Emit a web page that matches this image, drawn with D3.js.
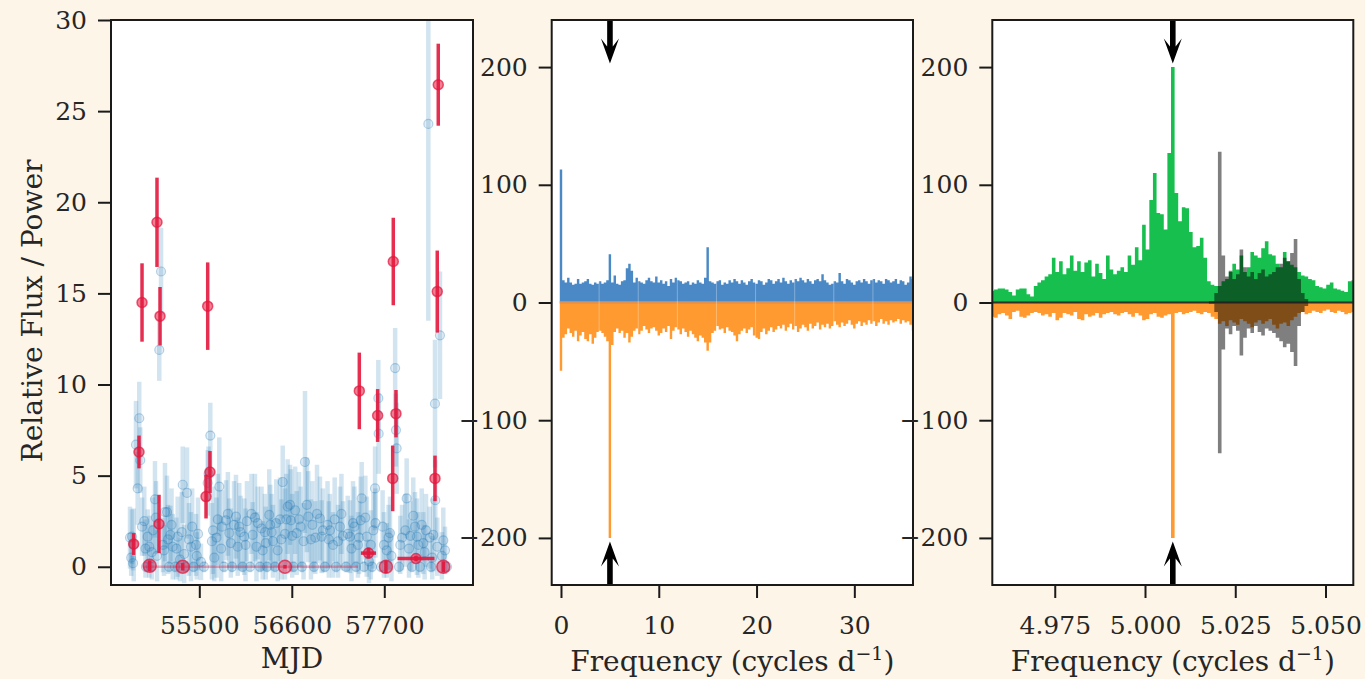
<!DOCTYPE html>
<html>
<head>
<meta charset="utf-8">
<script src="https://cdn.jsdelivr.net/npm/d3@7"></script>
<style>
  body { margin: 0; background: #fdf5e7; }
  svg { display: block; font-family: "DejaVu Serif", serif; }
</style>
</head>
<body>
<div id="chart"></div>
<script>
// ---- light curve (left panel) : [MJD, flux, err]
const bluePoints = [
  [54676, 1.6, 1.7], [54690, 0.5, 1.0], [54700, 1.65, 1.5], [54712, 0.2, 0.4], [54720, 1.2, 2.0],
  [54747, 6.7, 2.4], [54767, 4.3, 2.0], [54786, 8.15, 2.0], [54798, 5.85, 1.8],
  [54819, 2.2, 1.6], [54846, 2.5, 1.9], [54860, 1.0, 1.6], [54866, 0.0, 0.3], [54886, 1.65, 1.5],
  [54905, 1.1, 1.7], [54926, 0.0, 0.3], [54935, 0.8, 1.5], [54949, 2.0, 1.8], [54973, 3.7, 2.1],
  [54985, 2.7, 2.0], [54997, 0.6, 1.4], [55024, 11.9, 1.7], [55045, 16.2, 2.4], [55068, 1.2, 1.5],
  [55080, 0.9, 1.4], [55092, 3.0, 2.7], [55116, 3.0, 2.0], [55128, 1.5, 1.9], [55140, 0.0, 0.3],
  [55155, 1.75, 1.6], [55170, 2.3, 2.0], [55184, 1.1, 1.8], [55211, 0.0, 0.3], [55228, 1.0, 1.7],
  [55243, 1.65, 2.2], [55270, 0.4, 1.2], [55292, 1.9, 2.2], [55303, 4.5, 2.1], [55320, 0.7, 1.6],
  [55338, 0.0, 0.3], [55354, 4.05, 2.5], [55377, 1.5, 2.0], [55401, 1.1, 1.9], [55415, 2.2, 2.1],
  [55431, 0.0, 0.3], [55461, 1.2, 1.7], [55470, 0.6, 1.3], [55485, 1.8, 2.0],
  [55520, 0.27, 1.0], [55556, 0.0, 0.3], [55600, 4.6, 1.8], [55610, 5.1, 1.5],
  [55631, 7.2, 1.8], [55650, 1.4, 2.1], [55663, 2.0, 2.4], [55678, 0.5, 1.3], [55705, 1.6, 2.2],
  [55720, 2.6, 2.5], [55738, 4.4, 2.7], [55760, 1.0, 1.8], [55770, 2.2, 2.0], [55794, 0.0, 0.3],
  [55818, 2.55, 2.2], [55840, 2.9, 2.3], [55857, 1.85, 1.9], [55875, 1.3, 1.9], [55889, 0.0, 0.3],
  [55913, 2.3, 2.4], [55936, 2.75, 2.3], [55957, 1.1, 1.6], [55975, 2.2, 2.4], [55990, 1.9, 2.0],
  [56014, 0.0, 0.3], [56035, 1.65, 2.1], [56050, 1.2, 2.0], [56067, 2.5, 2.2], [56103, 0.0, 0.3],
  [56120, 2.9, 2.2], [56135, 1.75, 1.8], [56162, 2.7, 2.4], [56180, 1.1, 1.9], [56195, 2.4, 2.0],
  [56222, 0.0, 0.3], [56240, 2.1, 2.3], [56254, 0.9, 1.6], [56281, 1.9, 2.1], [56290, 1.3, 2.0],
  [56305, 0.0, 0.3], [56332, 2.85, 2.5], [56344, 2.3, 2.2], [56360, 1.9, 2.1], [56376, 1.4, 2.0],
  [56400, 0.0, 0.3], [56415, 2.4, 2.4], [56432, 0.9, 1.7], [56460, 2.6, 2.3], [56475, 1.5, 2.2],
  [56492, 4.65, 2.0], [56519, 1.8, 2.5], [56535, 2.6, 2.5], [56551, 3.3, 2.6], [56579, 3.4, 2.2],
  [56590, 2.55, 2.8], [56605, 1.7, 2.3], [56620, 0.0, 0.3], [56640, 3.1, 2.4], [56658, 1.85, 2.3],
  [56686, 2.6, 2.6], [56705, 2.2, 2.2], [56721, 0.0, 0.3], [56740, 1.4, 2.1], [56757, 5.75, 3.9],
  [56780, 3.4, 2.6], [56796, 2.75, 2.5], [56828, 1.5, 2.2], [56845, 2.3, 2.4], [56864, 0.0, 0.3],
  [56880, 1.6, 2.0], [56900, 2.9, 2.7], [56935, 2.65, 2.3], [56955, 1.65, 2.0], [56970, 2.0, 2.3],
  [56995, 0.0, 0.3], [57025, 2.3, 2.4], [57040, 1.5, 2.1], [57054, 2.0, 2.0], [57090, 1.2, 1.8],
  [57110, 2.6, 2.3], [57126, 0.0, 0.3], [57150, 1.4, 2.0], [57173, 2.2, 2.2], [57190, 2.9, 2.2],
  [57209, 1.7, 1.9], [57245, 0.0, 0.3], [57265, 1.8, 2.1], [57292, 1.65, 2.0], [57310, 1.0, 1.8],
  [57328, 2.4, 2.3], [57345, 2.2, 2.2], [57364, 0.0, 0.3], [57387, 1.2, 1.8], [57400, 1.6, 2.0],
  [57419, 2.55, 2.4], [57431, 3.75, 2.0], [57459, 0.0, 0.3], [57475, 2.7, 2.3], [57491, 1.65, 2.2],
  [57518, 0.3, 1.2], [57540, 1.2, 1.9], [57554, 0.0, 0.3], [57570, 2.0, 2.1], [57590, 4.3, 2.3],
  [57595, 2.4, 1.9], [57629, 9.25, 2.1], [57633, 7.3, 2.2], [57661, 0.0, 0.3], [57680, 2.2, 2.0],
  [57696, 1.2, 1.8], [57729, 0.9, 1.5], [57750, 1.6, 1.8], [57768, 1.85, 2.0], [57785, 0.6, 1.4],
  [57829, 10.9, 2.2], [57839, 7.5, 2.0], [57847, 6.5, 2.5], [57875, 0.0, 0.3], [57890, 1.2, 1.6],
  [57911, 1.6, 1.8], [57950, 2.0, 2.0], [57966, 3.75, 2.2], [57994, 1.0, 1.6], [58010, 1.7, 1.9],
  [58029, 0.0, 0.3], [58045, 2.8, 2.1], [58065, 2.2, 1.9], [58088, 1.65, 2.1], [58105, 1.2, 1.8],
  [58125, 0.0, 0.3], [58145, 2.3, 2.0], [58164, 1.3, 1.7], [58180, 0.8, 1.5], [58196, 2.0, 2.0],
  [58224, 24.3, 10.8], [58240, 1.6, 1.7], [58256, 0.0, 0.3], [58270, 0.5, 1.2], [58283, 1.75, 2.0],
  [58303, 8.95, 3.5], [58306, 3.65, 2.2], [58330, 1.1, 1.6], [58362, 12.7, 3.5], [58385, 0.6, 1.3],
  [58402, 1.45, 1.8], [58422, 0.9, 1.3], [58446, 0.0, 0.3]
];
// [MJD, flux, yerr, xerr]
const redPoints = [
  [54720, 1.25, 0.6, 0], [54783, 6.3, 0.9, 0], [54819, 14.5, 2.15, 0],
  [54910, 0.05, 0.3, 0], [54997, 18.9, 2.45, 0], [55021, 2.35, 1.6, 0],
  [55033, 13.75, 1.6, 0], [55303, 0.0, 0.2, 0], [55580, 3.85, 1.2, 0],
  [55600, 14.3, 2.4, 0], [55627, 5.2, 1.15, 0], [56519, 0.0, 0.1, 0],
  [57403, 9.65, 2.1, 0], [57512, 0.75, 0.3, 90], [57621, 8.3, 1.45, 0],
  [57720, 0.0, 0.35, 0], [57800, 4.85, 1.8, 0], [57807, 16.75, 2.4, 0],
  [57839, 8.4, 1.3, 0], [58077, 0.45, 0.15, 220], [58303, 4.85, 1.25, 0],
  [58330, 15.1, 2.25, 0], [58342, 26.45, 2.25, 0], [58402, 0.0, 0.3, 0]
];
const redBand = [54830, 57388]; // faint horizontal bar at zero
const lcYTicks = [0, 5, 10, 15, 20, 25, 30];
const lcXTicks = [55500, 56600, 57700];

// ---- wide periodogram (middle panel), 0..36 c/d in 0.25 steps
const wideStep = 0.25;
const wideTop = [113, 19, 17, 21, 17, 15, 16, 20, 16, 17, 18, 20, 16, 15, 17, 16, 18, 16, 17, 19,
  41, 17, 23, 16, 15, 18, 19, 29, 33, 27, 17, 21, 18, 17, 16, 19, 21, 18, 17, 22,
  17, 19, 16, 18, 14, 20, 17, 21, 19, 18, 16, 17, 18, 15, 17, 16, 19, 17, 16, 21,
  47, 18, 17, 16, 18, 19, 15, 17, 16, 19, 17, 20, 18, 16, 19, 17, 15, 18, 20, 17,
  16, 19, 18, 15, 17, 20, 19, 16, 18, 20, 17, 21, 18, 16, 19, 17, 20, 18, 21, 19,
  17, 20, 18, 16, 19, 20, 18, 24, 19, 17, 15, 16, 18, 17, 25, 18, 16, 20, 19, 17,
  15, 18, 19, 17, 20, 18, 16, 19, 20, 17, 19, 18, 16, 20, 19, 17, 18, 20, 16, 19,
  18, 15, 17, 22, 20];
const wideBottom = [58, 30, 27, 22, 26, 29, 24, 33, 28, 25, 31, 33, 27, 35, 30, 25, 24, 26, 29, 33,
  200, 36, 25, 22, 26, 24, 30, 26, 34, 29, 24, 22, 27, 24, 20, 23, 26, 22, 21, 24,
  28, 26, 22, 25, 20, 31, 24, 21, 23, 27, 22, 25, 29, 24, 27, 30, 33, 28, 30, 34,
  41, 34, 26, 24, 20, 23, 22, 26, 21, 24, 25, 28, 33, 27, 24, 22, 26, 23, 21, 28,
  30, 31, 25, 22, 27, 24, 21, 25, 23, 20, 22, 19, 24, 21, 18, 23, 20, 25, 22, 19,
  21, 24, 18, 22, 20, 17, 23, 19, 21, 18, 22, 20, 16, 19, 21, 17, 20, 18, 15, 19,
  22, 18, 16, 20, 17, 19, 15, 18, 16, 20, 17, 14, 18, 16, 19, 15, 17, 16, 14, 18,
  15, 17, 16, 19, 24];
const seamFreqs = [3.9, 7.9, 11.9, 15.9, 19.9, 23.9, 27.9, 31.9];
const wideXTicks = [0, 10, 20, 30];
const powerTicks = [-200, -100, 0, 100, 200];

// ---- zoomed periodogram (right panel), 4.9577..5.0577 in 0.001 steps
const zoomStart = 4.9577, zoomStep = 0.001;
const zoomTop = [10, 11, 12, 12, 11, 9, 6, 11, 12, 12, 7, 5, 14, 17, 19, 22, 24, 38, 26, 35,
  24, 29, 40, 27, 35, 26, 34, 36, 22, 33, 25, 20, 40, 28, 24, 27, 30, 26, 40, 32,
  47, 36, 66, 45, 87, 110, 76, 75, 62, 127, 200, 93, 69, 81, 80, 60, 47, 48, 55, 38,
  18, 15, 14, 14, 18, 20, 26, 33, 28, 40, 26, 30, 43, 40, 38, 46, 52, 41, 40, 33,
  30, 43, 35, 32, 30, 26, 23, 22, 20, 19, 14, 13, 12, 15, 17, 12, 11, 10, 9, 18, 19];
const zoomBottom = [12, 13, 10, 9, 11, 14, 8, 7, 12, 13, 11, 9, 8, 9, 11, 10, 12, 9, 15, 13,
  9, 10, 11, 8, 14, 15, 10, 12, 11, 9, 13, 10, 9, 8, 10, 11, 9, 8, 10, 12,
  9, 11, 15, 14, 10, 9, 12, 13, 11, 10, 200, 9, 8, 10, 9, 8, 7, 9, 10, 8,
  9, 12, 14, 18, 16, 20, 15, 17, 19, 14, 16, 18, 21, 17, 15, 18, 16, 14, 19, 22,
  18, 17, 20, 15, 12, 9, 8, 10, 9, 7, 8, 9, 7, 6, 8, 9, 7, 8, 10, 9, 8];
// third source, plotted symmetrically, starts at index 60
const greyStartIndex = 60;
const greyPower = [1, 1, 8, 128, 40, 22, 27, 20, 24, 45, 30, 22, 26, 20, 25,
  28, 22, 24, 26, 30, 33, 38, 35, 42, 54, 20, 8, 3, 0];
const zoomXTicks = [4.975, 5.0, 5.025, 5.05];
const peakFreq = 5.0077;
const arrowTip = 203;

const W = 1365, H = 679;
const T = 20, B = 585;
const tickLen = 13;
const tickFont = 25, titleFont = 28;

const svg = d3.select("#chart").append("svg").attr("width", W).attr("height", H);
svg.append("rect").attr("width", W).attr("height", H).attr("fill", "#fdf5e7");

function panel(id, x0, x1, xDomain, yDomain) {
  const x = d3.scaleLinear().domain(xDomain).range([x0, x1]);
  const y = d3.scaleLinear().domain(yDomain).range([B, T]);
  svg.append("rect").attr("x", x0).attr("y", T).attr("width", x1 - x0).attr("height", B - T)
    .attr("fill", "#fff");
  svg.append("clipPath").attr("id", id).append("rect")
    .attr("x", x0).attr("y", T).attr("width", x1 - x0).attr("height", B - T);
  const g = svg.append("g").attr("clip-path", `url(#${id})`);
  return { x, y, g, x0, x1 };
}

function axes(p, xTicks, yTicks, xFmt, yFmt) {
  const xa = svg.append("g").attr("transform", `translate(0,${B})`)
    .call(d3.axisBottom(p.x).tickValues(xTicks).tickFormat(xFmt).tickSize(tickLen).tickPadding(18));
  const ya = svg.append("g").attr("transform", `translate(${p.x0},0)`)
    .call(d3.axisLeft(p.y).tickValues(yTicks).tickFormat(yFmt).tickSize(tickLen).tickPadding(11));
  [xa, ya].forEach(a => {
    a.select(".domain").remove();
    a.selectAll("line").attr("stroke", "#1a1a1a").attr("stroke-width", 2);
    a.selectAll("text").attr("fill", "#262626").attr("font-size", tickFont)
      .attr("font-family", "DejaVu Serif, serif");
  });
  svg.append("rect").attr("x", p.x0).attr("y", T).attr("width", p.x1 - p.x0).attr("height", B - T)
    .attr("fill", "none").attr("stroke", "#1a1a1a").attr("stroke-width", 2);
}

function arrows(p) {
  const cx = p.x(peakFreq);
  const hw = 9, sw = 2.8, hl = 25, notch = 17;
  const down = p.y(arrowTip), up = p.y(-arrowTip);
  const shape = (tip, base, dir) => [
    [cx - sw, base], [cx + sw, base], [cx + sw, tip - dir * notch], [cx + hw, tip - dir * hl],
    [cx, tip], [cx - hw, tip - dir * hl], [cx - sw, tip - dir * notch]
  ];
  p.g.selectAll(".arrow").data([shape(down, T, 1), shape(up, B, -1)]).enter()
    .append("path").attr("class", "arrow")
    .attr("d", d => "M" + d.join("L") + "Z").attr("fill", "#000");
}

//LEFT: light curve
const lc = panel("clipLc", 111, 473, [54450, 58755], [-1, 30]);
const blue = "#1f77b4", red = "#e3173d";

lc.g.selectAll(".berr").data(bluePoints).enter().append("line")
  .attr("x1", d => lc.x(d[0])).attr("x2", d => lc.x(d[0]))
  .attr("y1", d => lc.y(d[1] - d[2])).attr("y2", d => lc.y(d[1] + d[2]))
  .attr("stroke", blue).attr("stroke-opacity", 0.2).attr("stroke-width", 4.5);
lc.g.selectAll(".bpt").data(bluePoints).enter().append("circle")
  .attr("cx", d => lc.x(d[0])).attr("cy", d => lc.y(d[1])).attr("r", 4.5)
  .attr("fill", blue).attr("fill-opacity", 0.12)
  .attr("stroke", blue).attr("stroke-opacity", 0.3).attr("stroke-width", 1.2);

lc.g.append("line")
  .attr("x1", lc.x(redBand[0])).attr("x2", lc.x(redBand[1]))
  .attr("y1", lc.y(0)).attr("y2", lc.y(0))
  .attr("stroke", red).attr("stroke-opacity", 0.35).attr("stroke-width", 2.5);

lc.g.selectAll(".rerr").data(redPoints).enter().append("line")
  .attr("x1", d => lc.x(d[0])).attr("x2", d => lc.x(d[0]))
  .attr("y1", d => lc.y(d[1] - d[2])).attr("y2", d => lc.y(d[1] + d[2]))
  .attr("stroke", red).attr("stroke-opacity", 0.9).attr("stroke-width", 3.5);
lc.g.selectAll(".rxerr").data(redPoints.filter(d => d[3] > 0)).enter().append("line")
  .attr("x1", d => lc.x(d[0] - d[3])).attr("x2", d => lc.x(d[0] + d[3]))
  .attr("y1", d => lc.y(d[1])).attr("y2", d => lc.y(d[1]))
  .attr("stroke", red).attr("stroke-opacity", 0.9).attr("stroke-width", 3.5);
lc.g.selectAll(".rpt").data(redPoints).enter().append("circle")
  .attr("cx", d => lc.x(d[0])).attr("cy", d => lc.y(d[1])).attr("r", d => d[1] < 0.2 ? 6.5 : 5)
  .attr("fill", red).attr("fill-opacity", d => d[1] < 0.2 ? 0.45 : 0.55)
  .attr("stroke", red).attr("stroke-opacity", 0.7).attr("stroke-width", 1.5);

axes(lc, lcXTicks, lcYTicks, d3.format("d"), d3.format("d"));

//MIDDLE: wide periodogram (each sample drawn as a full-width step centred on its frequency)
const wp = panel("clipWide", 551.7, 913, [-0.95, 36], [-240, 240]);
const wideArea = sign => d3.area()
  .x((d, i) => wp.x((i - 0.5) * wideStep)).y0(wp.y(0)).y1(d => wp.y(sign * d))
  .curve(d3.curveStepAfter);
const padEnd = arr => arr.concat([arr[arr.length - 1]]);
wp.g.append("path").datum(padEnd(wideTop)).attr("d", wideArea(1)).attr("fill", "#4a89c6");
wp.g.append("path").datum(padEnd(wideBottom)).attr("d", wideArea(-1)).attr("fill", "#ff9a30");
wp.g.append("line")
  .attr("x1", wp.x(-wideStep / 2)).attr("x2", wp.x((wideTop.length - 0.5) * wideStep))
  .attr("y1", wp.y(0)).attr("y2", wp.y(0)).attr("stroke", "#e3914a").attr("stroke-width", 2.5);
wp.g.selectAll(".seam").data(seamFreqs).enter().append("line")
  .attr("x1", d => wp.x(d)).attr("x2", d => wp.x(d)).attr("y1", T).attr("y2", B)
  .attr("stroke", "#fff").attr("stroke-opacity", 0.3).attr("stroke-width", 1);
arrows(wp);
axes(wp, wideXTicks, powerTicks, d3.format("d"), d3.format("d"));

//RIGHT: zoom around the peak
const zp = panel("clipZoom", 992.3, 1353.3, [zoomStart, zoomStart + 100 * zoomStep], [-240, 240]);
const zf = i => zoomStart + i * zoomStep;
const zoomArea = sign => d3.area()
  .x((d, i) => zp.x(zf(i))).y0(zp.y(0)).y1(d => zp.y(sign * d)).curve(d3.curveStep);
zp.g.append("path").datum(zoomTop).attr("d", zoomArea(1)).attr("fill", "#17bf4e");
zp.g.append("path").datum(zoomBottom).attr("d", zoomArea(-1)).attr("fill", "#ff9a30");
zp.g.append("path").datum(greyPower)
  .attr("d", d3.area()
    .x((d, i) => zp.x(zf(i + greyStartIndex))).y0(d => zp.y(-d)).y1(d => zp.y(d))
    .curve(d3.curveStep))
  .attr("fill", "#000").attr("fill-opacity", 0.5);
zp.g.append("line").attr("x1", zp.x0).attr("x2", zp.x1)
  .attr("y1", zp.y(0)).attr("y2", zp.y(0))
  .attr("stroke", "#1a1a1a").attr("stroke-opacity", 0.85).attr("stroke-width", 2);
arrows(zp);
axes(zp, zoomXTicks, powerTicks, d3.format(".3f"), d3.format("d"));

// axis titles
svg.append("text").attr("x", (lc.x0 + lc.x1) / 2).attr("y", 668)
  .attr("text-anchor", "middle").attr("font-size", titleFont).attr("fill", "#262626").text("MJD");
[wp, zp].forEach(p => {
  const t = svg.append("text").attr("x", (p.x0 + p.x1) / 2).attr("y", 671)
    .attr("text-anchor", "middle").attr("font-size", titleFont).attr("fill", "#262626");
  t.append("tspan").text("Frequency (cycles d");
  t.append("tspan").attr("dy", -11).attr("font-size", 19).text("\u22121");
  t.append("tspan").attr("dy", 11).text(")");
});
svg.append("text").attr("transform", "translate(42,311) rotate(-90)")
  .attr("text-anchor", "middle").attr("font-size", titleFont).attr("fill", "#262626")
  .text("Relative Flux / Power");
</script>
</body>
</html>
